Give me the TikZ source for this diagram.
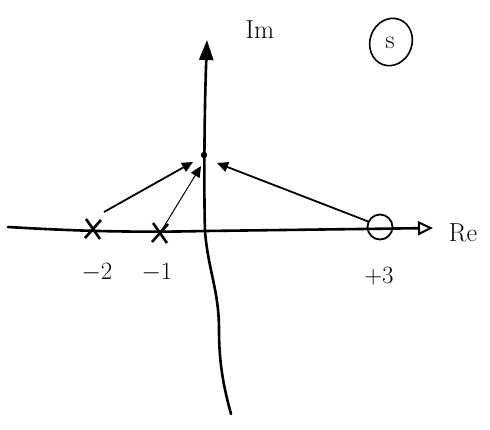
\documentclass[tikz,border=0pt]{standalone}
\usetikzlibrary{arrows.meta,calc,shapes.geometric}
\begin{document}
\begin{tikzpicture}[x=1pt,y=-1pt,
  axis/.style={line width=2.6pt,line cap=round},
  pole/.style={line width=2.6pt},
  locus/.style={line width=1.8pt,-{Triangle[length=11pt,width=10pt]}},
  lbl/.style={font=\fontsize{26}{30}\selectfont}]
\useasboundingbox (0,0) rectangle (490,429);
% coordinates
\coordinate (reL) at (8,227);
\coordinate (reR) at (433,228);
\coordinate (imT) at (207,40);
\coordinate (imB) at (231,414);
\coordinate (O) at (205,231);
\coordinate (pt) at (204,155);
\coordinate (p2) at (93,229);
\coordinate (p1) at (160,233);
\coordinate (z3) at (380,227);
% real axis
\draw[axis,-{Triangle[open,length=15pt,width=14pt,line width=2pt]}] (reL) .. controls (60,230) and (120,233) .. (O) -- (360,229) -- (reR);
% imaginary axis
\draw[axis,-{Triangle[length=20pt,width=14pt]}] (O) .. controls (204,200) and (204,120) .. (imT);
\draw[axis] (O) .. controls (208,270) and (219,290) .. (219,330) .. controls (219,370) and (226,395) .. (imB);
% point on imaginary axis
\fill (pt) circle (3.2pt);
% poles
\foreach \p in {p2,p1}{
  \draw[pole] ($(\p)+(-7,-10)$) -- ($(\p)+(7,10)$);
  \draw[pole] ($(\p)+(-8,9)$) -- ($(\p)+(8,-9)$);
}
% zero
\node[draw,circle,line width=1.8pt,minimum size=25pt,inner sep=0pt] (z) at (z3) {};
% loci
\draw[locus] (104,212) -- (193,162);
\draw[locus,line width=1pt] (p1) -- (201,166);
\draw[locus] (z.155) -- (217,163);
% labels
\node[lbl] (lm2) at (97,273) {$-2$};
\node[lbl] (lm1) at (157,273) {$-1$};
\node[lbl] (lp3) at (379,276) {$+3$};
\node[lbl] (lim) at (260,30) {Im};
\node[lbl] (lre) at (463,233) {Re};
\node[draw,ellipse,line width=1.6pt,inner sep=0pt,minimum width=42pt,minimum height=48pt,rotate=-20] (ls) at (391,42) {};
\node[lbl] at (390,43) {s};
\end{tikzpicture}
\end{document}
